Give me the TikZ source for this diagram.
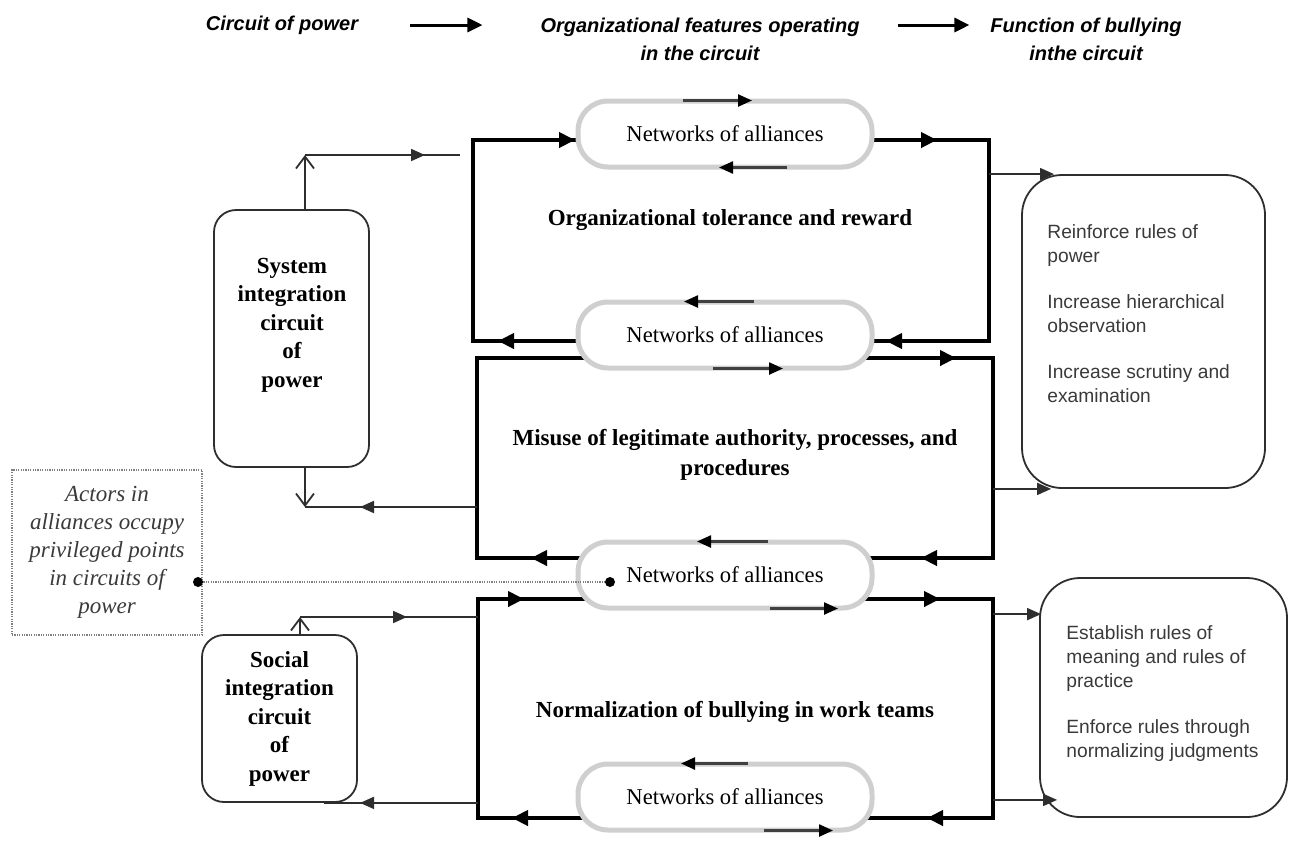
\documentclass[tikz,border=0pt]{standalone}
\usepackage{fontspec}
\setmainfont{Liberation Serif}
\setsansfont{Liberation Sans}
\usetikzlibrary{arrows.meta,positioning,calc,decorations.markings,backgrounds}

\definecolor{pillgray}{HTML}{CFCFCF}
\definecolor{inkgray}{HTML}{2E2E2E}
\definecolor{txtgray}{HTML}{3A3A3A}

\tikzset{
  ftip/.style={postaction={decorate,decoration={markings,
      mark=at position #1 with {\arrow{Triangle[length=8pt,width=7.5pt]}}}}},
  ltip/.style={postaction={decorate,decoration={markings,
      mark=at position #1 with {\arrow{Triangle[length=7pt,width=6pt]}}}}},
}

\begin{document}
\begin{tikzpicture}[x=0.5pt,y=-0.5pt,
    head/.style={font=\sffamily\bfseries\itshape\fontsize{10}{14}\selectfont, align=center},
    harrow/.style={-{Triangle[length=7.5pt,width=7pt]}, line width=1.5pt},
    pill/.style={draw=pillgray, line width=2.5pt, fill=white, rounded corners=15pt,
                 minimum width=147pt, minimum height=33pt,
                 font=\fontsize{11.3}{12}\selectfont},
    ctext/.style={font=\bfseries\fontsize{11.5}{15}\selectfont, align=center},
    cbox/.style={draw=inkgray, line width=0.9pt, rounded corners=11pt, align=center,
                 font=\bfseries\fontsize{11.5}{14.25}\selectfont},
    actbox/.style={draw=gray, line width=0.6pt, dash pattern=on 0.6pt off 0.6pt,
                   align=center, text=txtgray, font=\itshape\fontsize{11.5}{14}\selectfont},
    rbox/.style={draw=inkgray, line width=0.9pt, rounded corners=20pt},
    rtext/.style={anchor=north west, align=left, text=txtgray, inner sep=0pt,
                  font=\sffamily\fontsize{9.6}{12}\selectfont},
    frame/.style={line width=2pt, line join=miter},
    link/.style={draw=inkgray, line width=0.9pt},
    stem/.style={draw=inkgray, line width=0.9pt, -{Straight Barb[length=6pt,width=9pt]}},
    parrow/.style={draw=black!75, line width=1.2pt, -{Triangle[length=7pt,width=6pt,color=black]}},
    dot/.style={circle, fill=black, inner sep=0pt, minimum size=5pt},
    dotline/.style={draw=gray, line width=0.8pt, dash pattern=on 0.6pt off 0.6pt}
  ]
  \useasboundingbox (0,0) rectangle (1290,843);

  % header
  \node[head] (hcirc) at (282,25) {Circuit of power};
  \node[head] (hfeat) at (700,39) {Organizational features operating\\in the circuit};
  \node[head] (hfunc) at (1086,39) {Function of bullying\\inthe circuit};
  \draw[harrow, shorten <=22.5pt, shorten >=25.5pt] (hcirc.east) -- (hcirc.east -| hfeat.west);
  \draw[harrow, shorten <=15.5pt, shorten >=7pt] (hfeat.east |- hcirc.east) -- (hfunc.west |- hcirc.east);

  % networks of alliances
  \node[pill] (p1) at (725,134) {Networks of alliances};
  \node[pill] (p2) at (725,335) {Networks of alliances};
  \node[pill] (p3) at (725,575) {Networks of alliances};
  \node[pill] (p4) at (725,797) {Networks of alliances};

  % organizational features
  \node[ctext] (tol) at (730,220) {Organizational tolerance and reward};
  \node[ctext] (mis) at (735,455) {Misuse of legitimate authority, processes, and\\procedures};
  \node[ctext] (norm) at (735,712) {Normalization of bullying in work teams};

  % circuits of power
  \node[cbox, minimum width=77.5pt, minimum height=128.5pt] (sys) at (291.5,338.5) {};
  \node[font=\bfseries\fontsize{11.5}{14.25}\selectfont, align=center] (systxt) at (292,325)
    {System\\integration\\circuit\\of\\power};
  \node[cbox, minimum width=77.5pt, minimum height=83.5pt] (soc) at (279.5,718.5)
    {Social\\integration\\circuit\\of\\power};
  \node[actbox, minimum width=95pt, minimum height=82.5pt] (act) at (107,552.5)
    {Actors in\\alliances occupy\\privileged points\\in circuits of\\power};

  % functions of bullying
  \node[rbox, minimum width=121.5pt, minimum height=156.5pt] (r1) at (1143.5,331.5) {};
  \node[rtext] (r1txt) at (1047,224) {Reinforce rules of\\power\\[11pt]Increase hierarchical\\observation\\[11pt]Increase scrutiny and\\examination};
  \node[rbox, minimum width=123.5pt, minimum height=119.5pt] (r2) at (1163.5,697.5) {};
  \node[rtext] (r2txt) at (1066,625) {Establish rules of\\meaning and rules of\\practice\\[11pt]Enforce rules through\\normalizing judgments};

  % frames
  \coordinate (f1tl) at (473,140); \coordinate (f1tr) at (989,140);
  \coordinate (f1bl) at (473,341); \coordinate (f1br) at (989,341);
  \coordinate (f2tl) at (477,358); \coordinate (f2tr) at (993,358);
  \coordinate (f2bl) at (477,558); \coordinate (f2br) at (993,558);
  \coordinate (f3tl) at (478,599); \coordinate (f3tr) at (993,599);
  \coordinate (f3bl) at (478,818); \coordinate (f3br) at (993,818);
  \begin{scope}[on background layer]
    \draw[frame, ftip=113.5pt, ftip=-75pt] (f1bl -| p2.center) -- (f1bl) -- (f1tl) -- (f1tl -| p1.center);
    \draw[frame, ftip=106pt, ftip=-80.5pt] (f1tr -| p1.center) -- (f1tr) -- (f1br) -- (f1br -| p2.center);
    \draw[frame, ftip=97pt] (f2bl -| p3.center) -- (f2bl) -- (f2tl) -- (f2tl -| p2.center);
    \draw[frame, ftip=115.5pt, ftip=-98pt] (f2tr -| p2.center) -- (f2tr) -- (f2br) -- (f2br -| p3.center);
    \draw[frame, ftip=106.5pt, ftip=-100.5pt] (f3bl -| p4.center) -- (f3bl) -- (f3tl) -- (f3tl -| p3.center);
    \draw[frame, ftip=107.5pt, ftip=-101pt] (f3tr -| p3.center) -- (f3tr) -- (f3br) -- (f3br -| p4.center);
  \end{scope}

  % arrows on the networks
  \draw[parrow] ($(p1.north)+(-42,2)$) -- ($(p1.north)+(27,2)$);
  \draw[parrow] ($(p1.south)+(62,-2)$) -- ($(p1.south)+(-6,-2)$);
  \draw[parrow] ($(p2.north)+(29,2)$) -- ($(p2.north)+(-41,2)$);
  \draw[parrow] ($(p2.south)+(-12,-2)$) -- ($(p2.south)+(58,-2)$);
  \draw[parrow] ($(p3.north)+(43,2)$) -- ($(p3.north)+(-28,2)$);
  \draw[parrow] ($(p3.south)+(45,-2)$) -- ($(p3.south)+(113,-2)$);
  \draw[parrow] ($(p4.north)+(23,2)$) -- ($(p4.north)+(-44,2)$);
  \draw[parrow] ($(p4.south)+(39,-2)$) -- ($(p4.south)+(108,-2)$);

  % system integration connectors
  \coordinate (sysup) at (305,155);
  \coordinate (sysout) at (460,155);
  \draw[stem] (sys.north -| sysup) -- (sysup);
  \draw[link, ltip=60pt] (sysup) -- (sysout);
  \coordinate (sysdn) at (305,507);
  \draw[stem] (sys.south -| sysdn) -- (sysdn);
  \draw[link, ltip=58.5pt] (f2tl |- sysdn) -- (sysdn);

  % social integration connectors
  \coordinate (socup) at (300,617);
  \draw[stem] (soc.north -| socup) -- (socup);
  \draw[link, ltip=53.5pt] (socup) -- (f3tl |- socup);
  \coordinate (socdn) at ($(soc.south east)+(-34,0)$);
  \draw[link, ltip=59pt] (f3tl |- socdn) -- (socdn);

  % actors
  \node[dot] (dotl) at (198,582) {};
  \node[dot] (dotr) at (610,582) {};
  \draw[dotline] (dotl) -- (dotr);

  % into the functions
  \coordinate (r1in) at ($(r1.north west)+(33,0)$);
  \coordinate (r1in2) at ($(r1.south west)+(30,0)$);
  \coordinate (r2in) at ($(r2.north west)+(2,37)$);
  \coordinate (r2in2) at ($(r2.south west)+(18,-18)$);
  \draw[link, -{Triangle[length=7pt,width=6pt]}] (f1tr |- r1in) -- (r1in);
  \draw[link, -{Triangle[length=7pt,width=6pt]}] (f2br |- r1in2) -- (r1in2);
  \draw[link, -{Triangle[length=7pt,width=6pt]}] (f3tr |- r2in) -- (r2in);
  \draw[link, -{Triangle[length=7pt,width=6pt]}] (f3br |- r2in2) -- (r2in2);
\end{tikzpicture}
\end{document}
